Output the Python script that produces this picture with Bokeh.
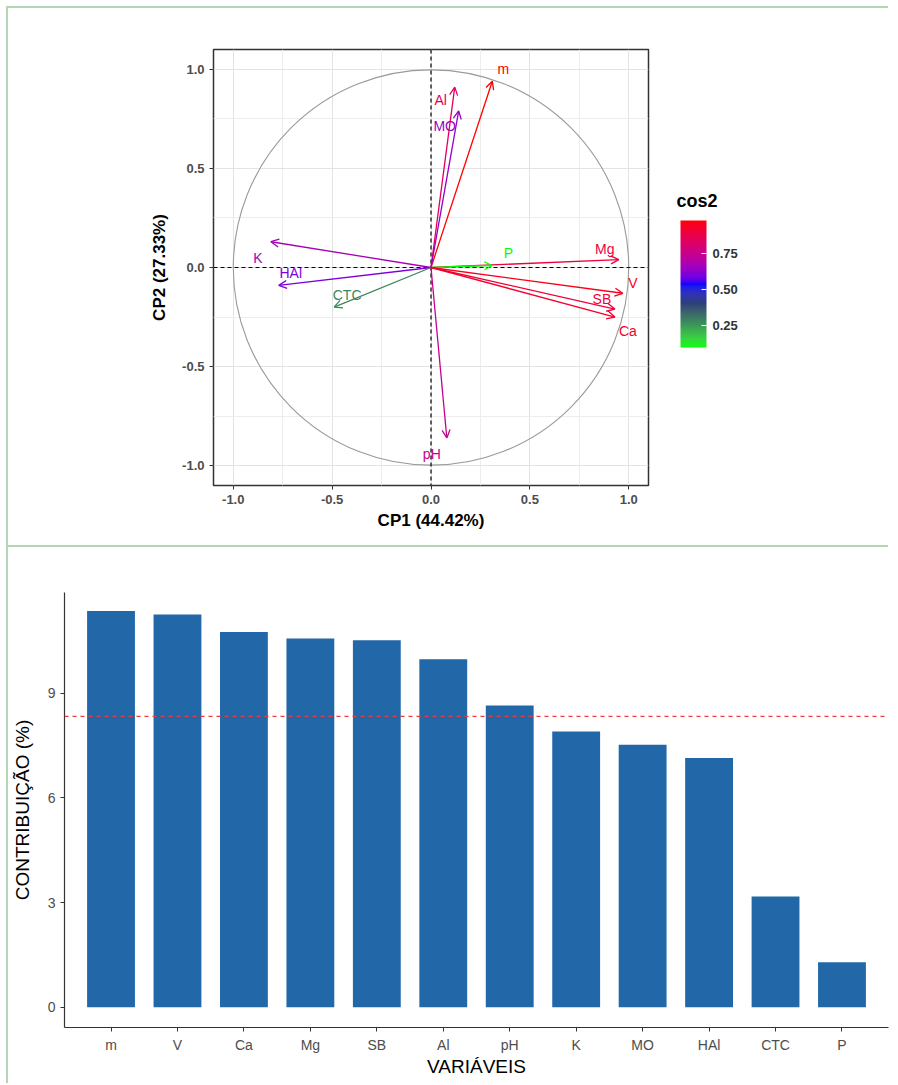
import numpy as np
from bokeh.plotting import figure
from bokeh.models import (ColumnDataSource, Arrow, OpenHead, Span, LinearColorMapper, ColorBar,
                          FixedTicker, CustomJSTickFormatter, Range1d, FactorRange, Label)
from bokeh.embed import file_html
from bokeh.resources import INLINE
from bokeh.core.properties import value

# ---------------- data ----------------
variables = ["m", "Al", "MO", "K", "Mg", "P", "HAl", "CTC", "V", "SB", "Ca", "pH"]
cp1 = [0.31, 0.12, 0.14, -0.81, 0.95, 0.31, -0.77, -0.49, 0.97, 0.93, 0.93, 0.08]
cp2 = [0.94, 0.91, 0.79, 0.13, 0.04, 0.01, -0.09, -0.20, -0.13, -0.21, -0.25, -0.86]

bar_vars = ["m", "V", "Ca", "Mg", "SB", "Al", "pH", "K", "MO", "HAl", "CTC", "P"]
contrib = [11.35, 11.25, 10.75, 10.56, 10.51, 9.97, 8.64, 7.90, 7.52, 7.14, 3.17, 1.29]

cos2_ticks = [0.25, 0.50, 0.75]
axis_ticks = [-1.0, -0.5, 0.0, 0.5, 1.0]
bar_ticks = [0, 3, 6, 9]

# label offsets (styling, screen px)
lab_dx = [11, -14, -14, -13, -14, 16, 12, 13, 10, -13, 13, -15]
lab_dy = [-12, 13, 15, 16, -11, -13, -12, -12, -10, -10, 14, 16]

# ---------------- colour gradient (CIELAB interpolation) ----------------
def _hex2rgb(h):
    h = h.lstrip("#")
    return np.array([int(h[i:i + 2], 16) / 255 for i in (0, 2, 4)])

M = np.array([[0.4124, 0.3576, 0.1805], [0.2126, 0.7152, 0.0722], [0.0193, 0.1192, 0.9505]])
WN = np.array([0.95047, 1.0, 1.08883])

def rgb2lab(rgb):
    lin = np.where(rgb <= 0.04045, rgb / 12.92, ((rgb + 0.055) / 1.055) ** 2.4)
    xyz = M @ lin / WN
    d = 6 / 29
    f = np.where(xyz > d ** 3, np.cbrt(xyz), xyz / (3 * d * d) + 4 / 29)
    return np.array([116 * f[1] - 16, 500 * (f[0] - f[1]), 200 * (f[1] - f[2])])

def lab2hex(lab):
    L, a, b = lab
    fy = (L + 16) / 116
    fx = fy + a / 500
    fz = fy - b / 200
    d = 6 / 29
    f = np.array([fx, fy, fz])
    xyz = np.where(f > d, f ** 3, 3 * d * d * (f - 4 / 29)) * WN
    lin = np.clip(np.linalg.solve(M, xyz), 0, 1)
    rgb = np.clip(np.where(lin <= 0.0031308, 12.92 * lin, 1.055 * lin ** (1 / 2.4) - 0.055), 0, 1)
    return "#%02x%02x%02x" % tuple(int(round(c * 255)) for c in rgb)

stop_pos = [0.0, 0.2, 0.35, 0.5, 1.0]
stop_col = ["#00ff00", "#3a8a5c", "#2b3f7a", "#0000ff", "#ff0000"]
stop_lab = [rgb2lab(_hex2rgb(c)) for c in stop_col]
N = 256
palette = []
for k in range(N):
    t = k / (N - 1)
    j = max(i for i in range(len(stop_pos) - 1) if stop_pos[i] <= t)
    u = (t - stop_pos[j]) / (stop_pos[j + 1] - stop_pos[j])
    palette.append(lab2hex(stop_lab[j] * (1 - u) + stop_lab[j + 1] * u))

cos2 = np.array(cp1) ** 2 + np.array(cp2) ** 2
lo, hi = float(cos2.min()), float(cos2.max())
colors = [palette[int(round((c - lo) / (hi - lo) * (N - 1)))] for c in cos2]

FONT = "Liberation Sans"
BORDER = {"box-shadow": "-2px -2px 0 0 #b5d6b5"}

# ---------------- top: correlation circle ----------------
p1 = figure(width=882, height=539, x_range=Range1d(-1.1, 1.1), y_range=Range1d(-1.1, 1.1),
            output_backend="svg", toolbar_location=None,
            min_border_left=205, min_border_right=242, min_border_top=41, min_border_bottom=62)
p1.margin = (8, 0, 0, 8)
p1.background_fill_color = "white"
p1.border_fill_color = "white"
p1.outline_line_color = "#333333"
p1.outline_line_width = 1.5
p1.styles = BORDER

tk = FixedTicker(ticks=axis_ticks, minor_ticks=[-0.75, -0.25, 0.25, 0.75])
for ax in (p1.xaxis[0], p1.yaxis[0]):
    ax.ticker = tk
    ax.formatter = CustomJSTickFormatter(code="return tick.toFixed(1)")
    ax.axis_line_color = None
    ax.major_tick_line_color = "#333333"
    ax.major_tick_out = 4
    ax.major_tick_in = 0
    ax.minor_tick_line_color = None
    ax.major_label_text_font = FONT
    ax.major_label_text_font_size = "13px"
    ax.major_label_text_font_style = "bold"
    ax.major_label_text_color = "#4d4d4d"
    ax.axis_label_text_font = FONT
    ax.axis_label_text_font_size = "17px"
    ax.axis_label_text_font_style = "bold"
    ax.axis_label_text_color = "black"
p1.xaxis.axis_label = "CP1 (44.42%)"
p1.yaxis.axis_label = "CP2 (27.33%)"
p1.xaxis.axis_label_standoff = 4
p1.yaxis.axis_label_standoff = 10

for g in (p1.xgrid[0], p1.ygrid[0]):
    g.ticker = tk
    g.grid_line_color = "#e3e3e3"
    g.minor_grid_line_color = "#ededed"

p1.circle(x=0, y=0, radius=1, fill_color=None, line_color="#9a9a9a", line_width=1.1)
p1.add_layout(Span(location=0, dimension="height", line_color="black", line_dash="4 3", line_width=1.2))
p1.add_layout(Span(location=0, dimension="width", line_color="black", line_dash="4 3", line_width=1.2))

for i in range(len(variables)):
    p1.add_layout(Arrow(end=OpenHead(size=8, line_color=colors[i], line_width=1.3),
                        x_start=0, y_start=0, x_end=cp1[i], y_end=cp2[i],
                        line_color=colors[i], line_width=1.3))

src = ColumnDataSource(dict(x=cp1, y=cp2, t=variables, c=colors, dx=lab_dx, dy=lab_dy))
p1.text(x="x", y="y", text="t", text_color="c", x_offset="dx", y_offset="dy", source=src,
        text_align="center", text_baseline="middle", text_font=value(FONT), text_font_size="14px")

mapper = LinearColorMapper(palette=palette, low=lo, high=hi)
cb = ColorBar(color_mapper=mapper, width=26, height=127,
              ticker=FixedTicker(ticks=cos2_ticks),
              formatter=CustomJSTickFormatter(code="return tick.toFixed(2)"),
              major_label_text_font=FONT, major_label_text_font_size="13px",
              major_label_text_font_style="bold", major_label_text_color="#333333",
              major_tick_line_color="white", major_tick_in=5, major_tick_out=0,
              bar_line_color=None, border_line_color=None, background_fill_color=None,
              location=(457, 128), padding=10, label_standoff=6)
p1.add_layout(cb)
p1.add_layout(Label(x=28, y=285, x_units="screen", y_units="screen", text="cos2",
                    text_font=FONT, text_font_size="18px", text_font_style="bold",
                    text_color="black", text_baseline="middle", text_align="left"), "right")

# ---------------- bottom: contribution bars ----------------
p2 = figure(width=882, height=538, x_range=FactorRange(factors=bar_vars, range_padding=0.2,
                                                        range_padding_units="absolute"),
            y_range=Range1d(-0.58, 11.88), output_backend="svg", toolbar_location=None,
            min_border_left=54, min_border_right=2, min_border_top=45, min_border_bottom=58)
p2.margin = (0, 0, 0, 8)
p2.background_fill_color = "white"
p2.border_fill_color = "white"
p2.outline_line_color = None
p2.grid.grid_line_color = None
p2.styles = BORDER

p2.vbar(x=bar_vars, top=contrib, width=0.72, fill_color="#2267a8", line_color=None)
p2.add_layout(Span(location=100 / len(bar_vars), dimension="width", line_color="#f03a3a",
                   line_dash="4 4", line_width=1.2))

p2.yaxis.ticker = FixedTicker(ticks=bar_ticks)
for ax in (p2.xaxis[0], p2.yaxis[0]):
    ax.axis_line_color = "#333333"
    ax.axis_line_width = 1.2
    ax.major_tick_line_color = "#333333"
    ax.major_tick_out = 4
    ax.major_tick_in = 0
    ax.minor_tick_line_color = None
    ax.major_label_text_font = FONT
    ax.major_label_text_font_size = "14px"
    ax.major_label_text_color = "#4d4d4d"
    ax.axis_label_text_font = FONT
    ax.axis_label_text_font_size = "19px"
    ax.axis_label_text_font_style = "normal"
    ax.axis_label_text_color = "black"
p2.xaxis.axis_label = "VARIÁVEIS"
p2.yaxis.axis_label = "CONTRIBUIÇÃO (%)"
p2.xaxis.axis_label_standoff = 0
p2.yaxis.axis_label_standoff = 12
p2.xaxis.major_label_standoff = 5

open("out.html", "w").write(file_html([p1, p2], INLINE))
